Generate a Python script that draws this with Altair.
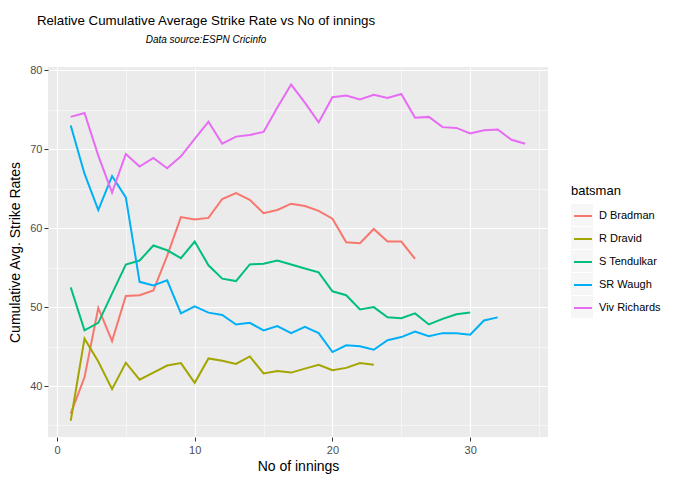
import altair as alt
import pandas as pd

names = ["D Bradman", "R Dravid", "S Tendulkar", "SR Waugh", "Viv Richards"]
colors = ["#F8766D", "#A3A500", "#00BF7D", "#00B0F6", "#E76BF3"]

bradman = [36.5, 41.1, 49.9, 45.7, 51.4, 51.5, 52.1, 56.5, 61.4, 61.1, 61.3, 63.7, 64.45,
           63.6, 61.9, 62.3, 63.1, 62.8, 62.2, 61.2, 58.2, 58.1, 59.9, 58.3, 58.3, 56.1]
dravid = [35.6, 46.0, 43.1, 39.6, 42.95, 40.8, 41.7, 42.6, 42.9, 40.4, 43.5, 43.2, 42.8,
          43.75, 41.6, 41.9, 41.7, 42.2, 42.7, 42.0, 42.3, 42.9, 42.7]
tendulkar = [52.5, 47.05, 48.0, 51.7, 55.4, 55.9, 57.8, 57.2, 56.2, 58.3, 55.3, 53.6, 53.3,
             55.4, 55.5, 55.9, 55.4, 54.9, 54.4, 52.0, 51.5, 49.7, 50.0, 48.7, 48.6, 49.2,
             47.8, 48.5, 49.1, 49.3]
waugh = [73.0, 66.9, 62.3, 66.6, 63.9, 53.2, 52.75, 53.4, 49.2, 50.1, 49.3, 49.0, 47.8, 48.0,
         47.05, 47.6, 46.7, 47.5, 46.7, 44.3, 45.15, 45.05, 44.6, 45.8, 46.2, 46.9, 46.3,
         46.7, 46.7, 46.5, 48.3, 48.7]
richards = [74.1, 74.6, 69.2, 64.5, 69.4, 67.8, 68.9, 67.6, 69.1, 71.3, 73.5, 70.7, 71.6,
            71.8, 72.2, 75.3, 78.2, 75.9, 73.4, 76.6, 76.8, 76.3, 76.9, 76.5, 77.0, 74.0,
            74.1, 72.8, 72.7, 72.0, 72.4, 72.5, 71.2, 70.7]

series = [bradman, dravid, tendulkar, waugh, richards]
rows = []
for name, vals in zip(names, series):
    for i, v in enumerate(vals):
        rows.append({"innings": i + 1, "rate": v, "batsman": name})
df = pd.DataFrame(rows)

FONT = "Liberation Sans"
major = "datum.value % 10 === 0"

x_enc = alt.X(
    "innings:Q",
    scale=alt.Scale(domain=[-0.65, 35.65], nice=False, zero=False),
    axis=alt.Axis(
        values=list(range(0, 36, 5)),
        labelExpr=f"{major} ? datum.label : ''",
        tickOpacity={"condition": {"test": major, "value": 1}, "value": 0},
        gridWidth={"condition": {"test": major, "value": 1.1}, "value": 0.5},
        title="No of innings",
    ),
)
y_enc = alt.Y(
    "rate:Q",
    scale=alt.Scale(domain=[33.54, 80.42], nice=False, zero=False),
    axis=alt.Axis(
        values=list(range(35, 81, 5)),
        labelExpr=f"{major} ? datum.label : ''",
        tickOpacity={"condition": {"test": major, "value": 1}, "value": 0},
        gridWidth={"condition": {"test": major, "value": 1.1}, "value": 0.5},
        title="Cumulative Avg. Strike Rates",
    ),
)

LX, LY = 523, 118

lines = alt.Chart(df).mark_line(strokeWidth=2).encode(
    x=x_enc,
    y=y_enc,
    stroke=alt.Stroke(
        "batsman:N",
        scale=alt.Scale(range=colors),
        legend=alt.Legend(
            orient="none", legendX=LX, legendY=LY, title="batsman",
            symbolType="M-0.82,0H0.82", symbolSize=484, symbolStrokeWidth=2,
            labelFontSize=11, labelColor="#000000", labelFont=FONT, labelOffset=4,
            titleFontSize=13, titleFont=FONT, titleFontWeight="normal",
            titleColor="#000000", titlePadding=6, rowPadding=6, zindex=1,
        ),
    ),
)

keys = alt.Chart(df).transform_filter("false").transform_calculate(
    b2="datum.batsman"
).mark_square().encode(
    x=x_enc,
    y=y_enc,
    color=alt.Color(
        "b2:N",
        scale=alt.Scale(domain=names, range=["#F2F2F2"] * 5),
        legend=alt.Legend(
            orient="none", legendX=LX, legendY=LY, title="batsman",
            symbolType="square", symbolSize=484, symbolStrokeWidth=0,
            labelFontSize=11, labelExpr="''", labelFont=FONT, labelOffset=4,
            titleFontSize=13, titleFont=FONT, titleFontWeight="normal",
            titleOpacity=0, titlePadding=6, rowPadding=1, zindex=0,
        ),
    ),
)

chart = alt.layer(keys, lines).resolve_scale(color="independent").properties(
    width=500,
    height=370,
    padding={"left": 40, "top": 59, "right": 120, "bottom": 37},
    autosize=alt.AutoSizeParams(type="none"),
    title=alt.TitleParams(
        "Relative Cumulative Average Strike Rate vs No of innings",
        subtitle="Data source:ESPN Cricinfo",
        anchor="middle", dx=-92, fontSize=13.3, font=FONT, fontWeight="normal",
        color="#000000", subtitleFont=FONT, subtitleFontSize=10,
        subtitleFontStyle="italic", subtitleColor="#000000", subtitlePadding=8,
        offset=19,
    ),
).configure_view(
    fill="#EBEBEB", stroke=None
).configure_axis(
    domain=False, gridColor="#FFFFFF", tickColor="#333333", tickSize=4, tickWidth=1,
    labelColor="#4D4D4D", labelFontSize=11, labelFont=FONT, labelPadding=2,
    titleFont=FONT, titleFontSize=14, titleFontWeight="normal", titleColor="#000000",
).configure_axisX(titlePadding=4, labelPadding=3).configure_axisY(titlePadding=7)

chart.save("out.html", embed_options={"renderer": "svg", "actions": False})
